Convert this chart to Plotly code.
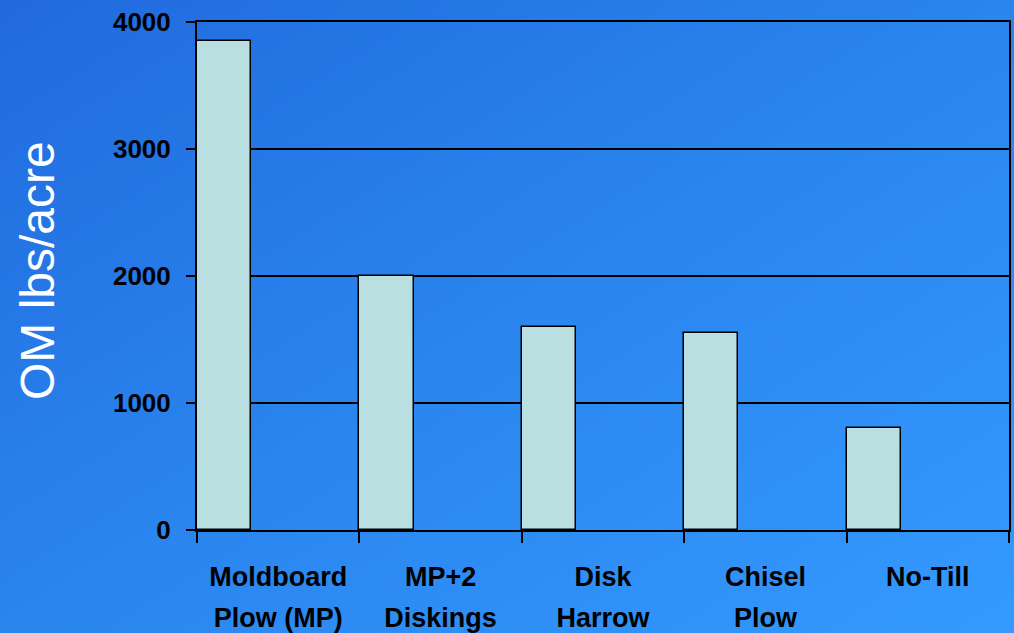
import base64
import plotly.graph_objects as go

categories = ["Moldboard<br>Plow (MP)", "MP+2<br>Diskings", "Disk<br>Harrow", "Chisel<br>Plow", "No-Till"]
om_values = [3850, 2000, 1600, 1550, 800]
y_ticks = [0, 1000, 2000, 3000, 4000]

line1 = [c.split("<br>")[0] for c in categories]
line2 = [c.split("<br>")[1] if "<br>" in c else "" for c in categories]

W, H = 1014, 633
ML, MR, MT, MB = 197, 5, 22, 103
PW, PH = W - ML - MR, H - MT - MB

svg = (
    f'<svg xmlns="http://www.w3.org/2000/svg" width="{W}" height="{H}" viewBox="0 0 {W} {H}" preserveAspectRatio="none">'
    '<defs><linearGradient id="g" x1="0" y1="0" x2="1" y2="1">'
    '<stop offset="0" stop-color="#216ADE"/>'
    '<stop offset="0.5" stop-color="#2A85EE"/>'
    '<stop offset="1" stop-color="#349AFF"/>'
    '</linearGradient></defs>'
    f'<rect x="0" y="0" width="{W}" height="{H}" fill="url(#g)"/></svg>'
)
src = "data:image/svg+xml;base64," + base64.b64encode(svg.encode()).decode()

xpos = list(range(len(categories)))

fig = go.Figure(
    go.Bar(
        x=xpos,
        y=om_values,
        width=1 / 3,
        offset=-0.5,
        marker=dict(color="#BADFE0", line=dict(color="#000000", width=1.5)),
        hoverinfo="y",
    )
)
# invisible trace to activate the second x axis (second label line)
fig.add_trace(go.Scatter(x=[0], y=[0], xaxis="x2", mode="markers",
                         marker=dict(opacity=0), hoverinfo="skip", showlegend=False))

font_family = "Liberation Sans, Arial, sans-serif"
label_font = dict(family=font_family, size=27, color="#000000", weight="bold")

fig.update_layout(
    width=W,
    height=H,
    margin=dict(l=ML, r=MR, t=MT, b=MB, autoexpand=False),
    paper_bgcolor="#2A85EE",
    plot_bgcolor="rgba(0,0,0,0)",
    showlegend=False,
    bargap=0,
    images=[
        dict(
            source=src,
            xref="paper",
            yref="paper",
            x=-ML / PW,
            y=(PH + MT) / PH,
            sizex=W / PW,
            sizey=H / PH,
            xanchor="left",
            yanchor="top",
            sizing="stretch",
            layer="below",
        )
    ],
    xaxis=dict(
        range=[-0.5, len(categories) - 0.5],
        tickvals=xpos,
        ticktext=line1,
        ticks="",
        ticklabelstandoff=22,
        automargin=False,
        tickfont=label_font,
        showgrid=False,
        zeroline=False,
        showline=True,
        linecolor="#000000",
        linewidth=2,
        mirror=True,
        minor=dict(
            tick0=-0.5,
            dtick=1,
            ticks="outside",
            ticklen=11,
            tickwidth=1.5,
            tickcolor="#000000",
            showgrid=False,
        ),
    ),
    xaxis2=dict(
        range=[-0.5, len(categories) - 0.5],
        overlaying="x",
        anchor="y",
        side="bottom",
        tickvals=xpos,
        ticktext=line2,
        ticks="",
        ticklabelstandoff=69,
        automargin=False,
        tickfont=label_font,
        showgrid=False,
        zeroline=False,
        showline=False,
    ),
    yaxis=dict(
        range=[0, 4000],
        tickvals=y_ticks,
        ticks="outside",
        ticklen=9,
        tickwidth=1.5,
        tickcolor="#000000",
        ticklabelstandoff=10,
        automargin=False,
        tickfont=dict(family=font_family, size=26, color="#000000", weight="bold"),
        showgrid=True,
        gridcolor="#000000",
        gridwidth=1.5,
        zeroline=False,
        showline=True,
        linecolor="#000000",
        linewidth=2,
        mirror=True,
    ),
    annotations=[
        dict(
            text="OM lbs/acre",
            xref="paper",
            yref="paper",
            x=(37 - ML) / PW,
            y=(530 - 271) / PH,
            xanchor="center",
            yanchor="middle",
            textangle=-90,
            showarrow=False,
            font=dict(family=font_family, size=48, color="#FFFFFF"),
        )
    ],
)

fig.write_html("out.html")
